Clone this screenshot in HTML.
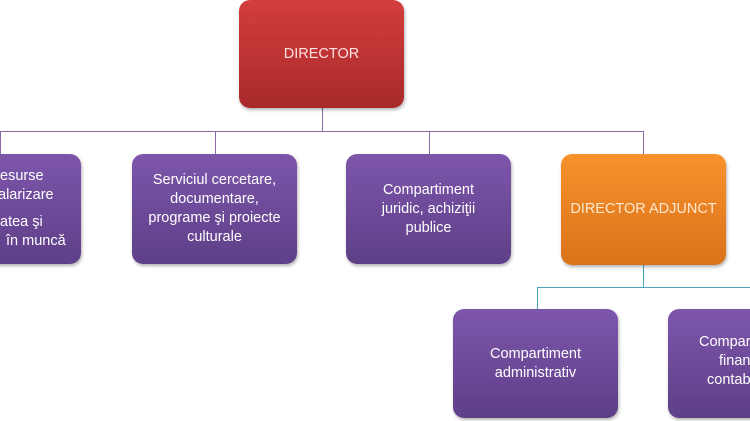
<!DOCTYPE html>
<html><head><meta charset="utf-8"><style>
html,body{margin:0;padding:0;}
#w{width:750px;height:421px;overflow:hidden;background:#fff;position:relative;font-family:"Liberation Sans",sans-serif;}
.b{position:absolute;border-radius:11px;color:#fff;font-size:14.5px;line-height:19px;text-align:center;display:flex;align-items:center;justify-content:center;box-shadow:1px 2px 3px rgba(0,0,0,.3);}
.p{background:linear-gradient(#7d56ab,#5f3f88);}
.r{background:linear-gradient(#d43d3d,#a82a2a);}
.o{background:linear-gradient(#f8922c,#d9721a);color:#fde8d0;}
.l{position:absolute;}
.t{position:absolute;color:#fff;font-size:14.5px;white-space:nowrap;}
</style></head><body><div id="w">
<div class="l" style="left:0;top:131px;width:644px;height:1px;background:#8a6aa8"></div>
<div class="l" style="left:322px;top:108px;width:1px;height:24px;background:#8a6aa8"></div>
<div class="l" style="left:0;top:131px;width:1px;height:23px;background:#8a6aa8"></div>
<div class="l" style="left:215px;top:131px;width:1px;height:23px;background:#8a6aa8"></div>
<div class="l" style="left:429px;top:131px;width:1px;height:23px;background:#8a6aa8"></div>
<div class="l" style="left:643px;top:131px;width:1px;height:23px;background:#8a6aa8"></div>
<div class="l" style="left:643px;top:265px;width:1px;height:22px;background:#4ba3b8"></div>
<div class="l" style="left:537px;top:287px;width:213px;height:1px;background:#4ba3b8"></div>
<div class="l" style="left:537px;top:287px;width:1px;height:22px;background:#4ba3b8"></div>

<div class="b r" style="left:239px;top:0;width:165px;height:108px;color:#fde0e0">DIRECTOR</div>
<div class="b p" style="left:-84px;top:154px;width:165px;height:110px"></div>
<div class="t" style="left:0;top:168px">esurse</div>
<div class="t" style="left:-2px;top:187px">alarizare</div>
<div class="t" style="left:0;top:214px">atea şi</div>
<div class="t" style="left:6px;top:233px">în muncă</div>
<div class="b p" style="left:132px;top:154px;width:165px;height:110px">Serviciul cercetare,<br>documentare,<br>programe şi proiecte<br>culturale</div>
<div class="b p" style="left:346px;top:154px;width:165px;height:110px">Compartiment<br>juridic, achiziţii<br>publice</div>
<div class="b o" style="left:561px;top:154px;width:165px;height:111px">DIRECTOR ADJUNCT</div>
<div class="b p" style="left:453px;top:309px;width:165px;height:109px">Compartiment<br>administrativ</div>
<div class="b p" style="left:668px;top:309px;width:165px;height:109px"></div>
<div class="t" style="left:699px;top:334px">Compartiment</div>
<div class="t" style="left:719px;top:353px">financiar</div>
<div class="t" style="left:707px;top:372px">contabil</div>
</div></body></html>
